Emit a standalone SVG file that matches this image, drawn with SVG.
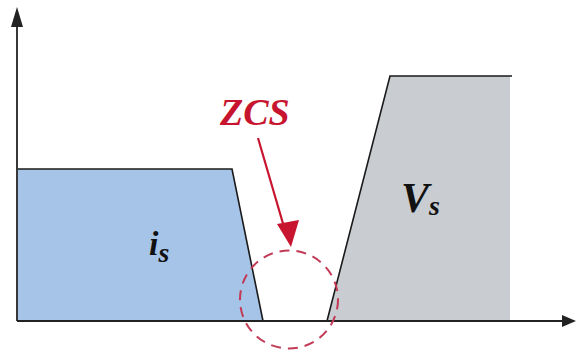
<svg xmlns="http://www.w3.org/2000/svg" width="576" height="356" viewBox="0 0 576 356">
<style>
.ax{stroke:#222;stroke-width:1.8;fill:none}
.edge{stroke:#1a1a1a;stroke-width:1.6;fill:none}
.lbl{font-family:'Liberation Serif','Times New Roman',serif;font-weight:700;font-style:italic;fill:#111}
.red{fill:#c8152f}
</style>
<rect width="576" height="356" fill="#fff"/>
<g id="is-wave">
<polygon points="18,169 232,169 263,321 18,321" fill="#a6c4e7"/>
<polyline class="edge" points="18,169 232,169 263,321"/>
<text class="lbl" x="149" y="255" font-size="34">i<tspan font-size="28" dy="7">s</tspan></text>
</g>
<g id="vs-wave">
<polygon points="327,321 390,76 510,76 510,321" fill="#c9cdd1"/>
<polyline class="edge" points="327,321 390,76 512,76"/>
<text class="lbl" x="401" y="212" font-size="42">V<tspan font-size="28" dy="3">s</tspan></text>
</g>
<g id="axes">
<line class="ax" x1="17" y1="321" x2="17" y2="26"/>
<polygon points="17,7 11,27 23,27" fill="#222"/>
<line class="ax" x1="17" y1="321" x2="563" y2="321"/>
<polygon points="576,321 562,315 562,327" fill="#222"/>
</g>
<g id="zcs">
<circle cx="289" cy="299.5" r="49" fill="none" stroke="#c23a55" stroke-width="2" stroke-dasharray="10,7"/>
<text class="lbl red" x="220" y="125" font-size="38">ZCS</text>
</g>
<g id="connectors">
<line x1="258" y1="138" x2="284" y2="227" stroke="#c8152f" stroke-width="2.2"/>
<polygon points="291,247 277,224 299,220" fill="#c8152f"/>
</g>
</svg>
